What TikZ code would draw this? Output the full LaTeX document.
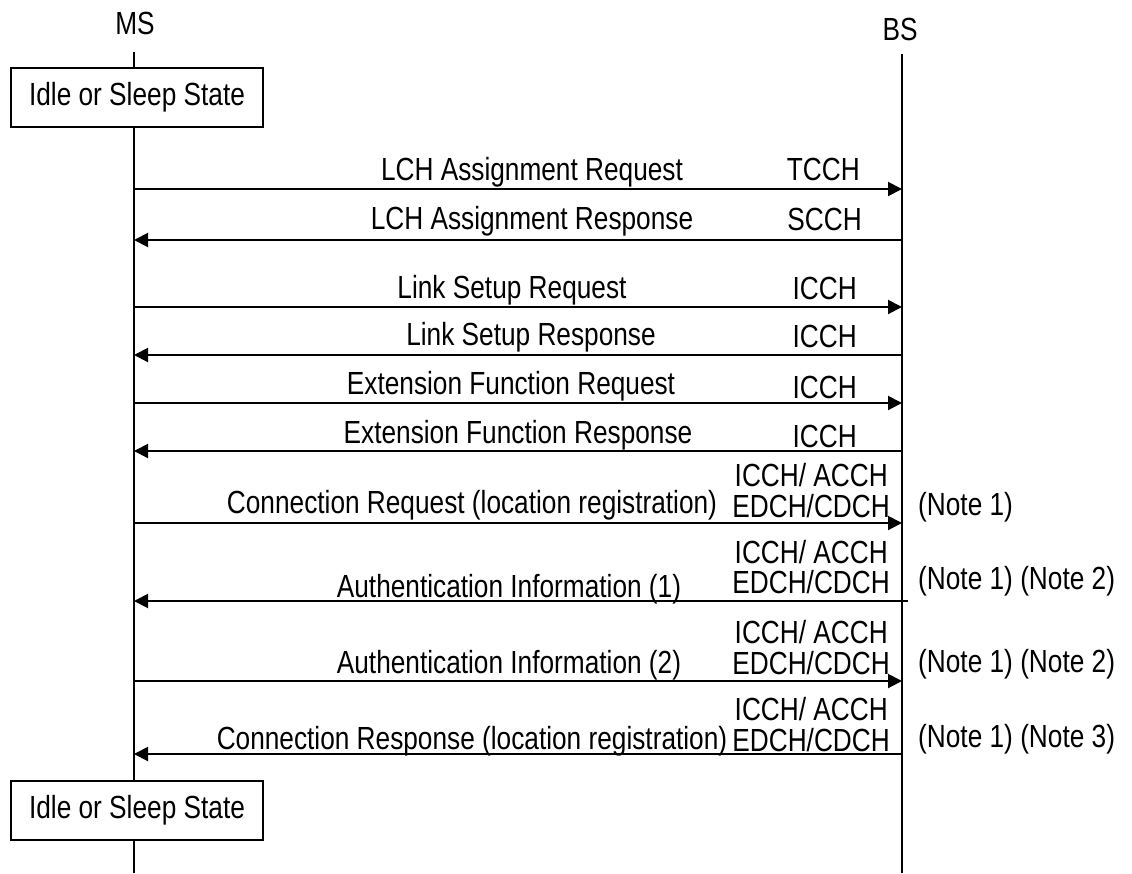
\documentclass[tikz,border=0pt]{standalone}
\usepackage{fontspec}
\setmainfont{Liberation Sans}[FakeStretch=0.82]
\usetikzlibrary{arrows.meta}
\tikzset{
  x=1pt, y=-1pt,
  life/.style={line width=2pt},
  msg/.style={line width=2pt, -{Triangle[length=14pt,width=14pt]}},
  lbl/.style={anchor=base, inner sep=0pt, font=\fontsize{32}{34}\selectfont},
  chan/.style={anchor=base east, inner sep=0pt, font=\fontsize{32}{34}\selectfont},
  note/.style={anchor=base west, inner sep=0pt, font=\fontsize{32}{34}\selectfont},
  statebox/.style={draw, line width=2pt, fill=white, minimum width=252pt, minimum height=59pt,
    inner sep=0pt, font=\fontsize{32}{34}\selectfont},
}
\begin{document}
\begin{tikzpicture}
\useasboundingbox (0,0) rectangle (1132,873);
% entities
\node[lbl] (ms) at (135,34) {MS};
\node[lbl] (bs) at (900,40) {BS};
\coordinate (mstop) at (134,52);
\coordinate (msbot) at (134,873);
\coordinate (bstop) at (902,54);
\coordinate (bsbot) at (902,873);
\draw[life] (mstop) -- (msbot);
\draw[life] (bstop) -- (bsbot);
\node[statebox] (s1) at (137,97.5) {Idle or Sleep State};
\node[statebox] (s2) at (137,810) {Idle or Sleep State};
% message anchor points
\foreach \i/\y in {1/189,2/240,3/307,4/355,5/403,6/451,7/523,8/601,9/681,10/754}{
  \coordinate (m\i) at (134,\y);
  \coordinate (b\i) at (902,\y);
}
\coordinate (b8x) at (908,601);
% messages
\draw[msg] (m1) -- (b1);
\node[lbl] (l1) at (532,180) {LCH Assignment Request};
\node[chan] (c1) at (860,180) {TCCH};
\draw[msg] (b2) -- (m2);
\node[lbl] (l2) at (532,229) {LCH Assignment Response};
\node[chan] (c2) at (862,230) {SCCH};
\draw[msg] (m3) -- (b3);
\node[lbl] (l3) at (512,298) {Link Setup Request};
\node[chan] (c3) at (857,299) {ICCH};
\draw[msg] (b4) -- (m4);
\node[lbl] (l4) at (531,345) {Link Setup Response};
\node[chan] (c4) at (857,347) {ICCH};
\draw[msg] (m5) -- (b5);
\node[lbl] (l5) at (511,394) {Extension Function Request};
\node[chan] (c5) at (857,398) {ICCH};
\draw[msg] (b6) -- (m6);
\node[lbl] (l6) at (518,443) {Extension Function Response};
\node[chan] (c6) at (857,447) {ICCH};
\draw[msg] (m7) -- (b7);
\node[lbl] (l7) at (472,513) {Connection Request (location registration)};
\node[chan] (c7a) at (888,486) {ICCH/ ACCH};
\node[chan] (c7b) at (890,517) {EDCH/CDCH};
\node[note] (n7) at (918,515) {(Note 1)};
\draw[msg] (b8x) -- (m8);
\node[lbl] (l8) at (509,597) {Authentication Information (1)};
\node[chan] (c8a) at (888,563) {ICCH/ ACCH};
\node[chan] (c8b) at (890,593) {EDCH/CDCH};
\node[note] (n8) at (918,589) {(Note 1) (Note 2)};
\draw[msg] (m9) -- (b9);
\node[lbl] (l9) at (509,673) {Authentication Information (2)};
\node[chan] (c9a) at (888,643) {ICCH/ ACCH};
\node[chan] (c9b) at (890,674) {EDCH/CDCH};
\node[note] (n9) at (918,672) {(Note 1) (Note 2)};
\draw[msg] (b10) -- (m10);
\node[lbl] (l10) at (472,749) {Connection Response (location registration)};
\node[chan] (c10a) at (888,720) {ICCH/ ACCH};
\node[chan] (c10b) at (890,751) {EDCH/CDCH};
\node[note] (n10) at (918,747) {(Note 1) (Note 3)};
\end{tikzpicture}
\end{document}
